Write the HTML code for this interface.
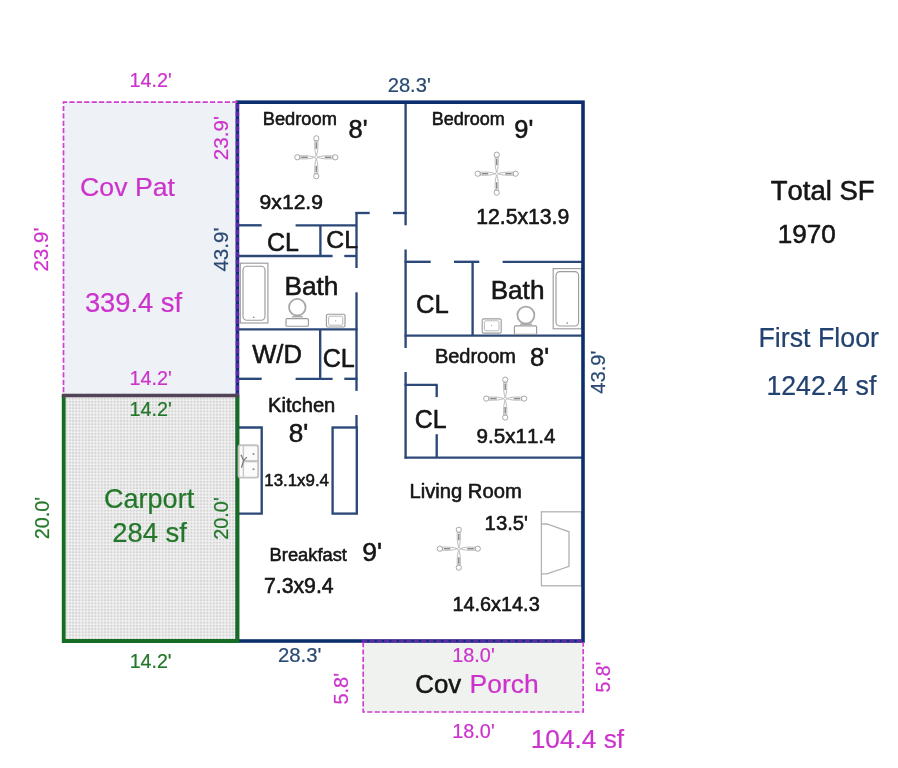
<!DOCTYPE html>
<html lang="en">
<head>
<meta charset="utf-8">
<title>Floor Plan</title>
<style>
html,body{margin:0;padding:0;background:#ffffff;}
body{width:898px;height:768px;overflow:hidden;font-family:"Liberation Sans",sans-serif;}
svg{display:block;}
svg text{font-family:"Liberation Sans",sans-serif;font-kerning:none;stroke-linejoin:round;}
</style>
</head>
<body>
<svg width="898" height="768" viewBox="0 0 898 768">
<defs>
<pattern id="grid" x="65" y="397" width="3.2" height="3.2" patternUnits="userSpaceOnUse">
<rect width="3.2" height="3.2" fill="#f4f4f4"/>
<rect x="0.6" y="0.6" width="2.05" height="2.05" fill="#d2d2d2"/>
</pattern>
<filter id="soft2" x="-2%" y="-2%" width="104%" height="104%"><feGaussianBlur stdDeviation="0.4"/></filter>
<filter id="soft" x="-2%" y="-2%" width="104%" height="104%"><feGaussianBlur stdDeviation="0.65"/></filter>
</defs>
<rect width="898" height="768" fill="#ffffff"/>
<rect x="63.5" y="395.5" width="174" height="245.5" fill="url(#grid)" filter="url(#soft2)"/>
<g filter="url(#soft)">
<rect x="63.5" y="102.2" width="174" height="293.3" fill="#eef2f7"/>
<rect x="363" y="641" width="220" height="71" fill="#f0f2f0"/>
<line x1="237" y1="225.3" x2="261.7" y2="225.3" stroke="#2c4879" stroke-width="2.35" />
<line x1="295.6" y1="225.3" x2="356.5" y2="225.3" stroke="#2c4879" stroke-width="2.35" />
<line x1="320.4" y1="225.3" x2="320.4" y2="256" stroke="#2c4879" stroke-width="2.35" />
<line x1="237" y1="256" x2="332.6" y2="256" stroke="#2c4879" stroke-width="2.35" />
<line x1="344.3" y1="256" x2="356.5" y2="256" stroke="#2c4879" stroke-width="2.35" />
<line x1="356.5" y1="212" x2="356.5" y2="268" stroke="#2c4879" stroke-width="2.35" />
<line x1="356.5" y1="292.3" x2="356.5" y2="390.9" stroke="#2c4879" stroke-width="2.35" />
<line x1="356.5" y1="415" x2="356.5" y2="428" stroke="#2c4879" stroke-width="2.35" />
<line x1="355.5" y1="213" x2="369.7" y2="213" stroke="#2c4879" stroke-width="2.35" />
<line x1="393" y1="213" x2="406.6" y2="213" stroke="#2c4879" stroke-width="2.35" />
<line x1="405.6" y1="102" x2="405.6" y2="225.3" stroke="#2c4879" stroke-width="2.35" />
<line x1="405.6" y1="249.5" x2="405.6" y2="348" stroke="#2c4879" stroke-width="2.35" />
<line x1="405.6" y1="372" x2="405.6" y2="458.6" stroke="#2c4879" stroke-width="2.35" />
<line x1="237" y1="329.4" x2="357.5" y2="329.4" stroke="#2c4879" stroke-width="2.35" />
<line x1="320.2" y1="329.4" x2="320.2" y2="378.8" stroke="#2c4879" stroke-width="2.35" />
<line x1="237" y1="378.8" x2="261.7" y2="378.8" stroke="#2c4879" stroke-width="2.35" />
<line x1="295.6" y1="378.8" x2="332.6" y2="378.8" stroke="#2c4879" stroke-width="2.35" />
<line x1="344.3" y1="378.8" x2="357.5" y2="378.8" stroke="#2c4879" stroke-width="2.35" />
<line x1="404.6" y1="261.8" x2="430.7" y2="261.8" stroke="#2c4879" stroke-width="2.35" />
<line x1="454" y1="261.8" x2="479.3" y2="261.8" stroke="#2c4879" stroke-width="2.35" />
<line x1="502.6" y1="261.8" x2="583" y2="261.8" stroke="#2c4879" stroke-width="2.35" />
<line x1="472.6" y1="261.8" x2="472.6" y2="335.6" stroke="#2c4879" stroke-width="2.35" />
<line x1="404.6" y1="335.6" x2="583" y2="335.6" stroke="#2c4879" stroke-width="2.35" />
<line x1="404.6" y1="384.9" x2="437.7" y2="384.9" stroke="#2c4879" stroke-width="2.35" />
<line x1="436.7" y1="384.9" x2="436.7" y2="397.1" stroke="#2c4879" stroke-width="2.35" />
<line x1="436.7" y1="434.2" x2="436.7" y2="457.6" stroke="#2c4879" stroke-width="2.35" />
<line x1="404.6" y1="457.6" x2="583" y2="457.6" stroke="#2c4879" stroke-width="2.35" />
<path d="M237,427.5 H261.7 V513.6 H237" fill="none" stroke="#2c4879" stroke-width="2.35"/>
<rect x="332.6" y="427.5" width="24.2" height="86.1" fill="none" stroke="#2c4879" stroke-width="2.35"/>
<g fill="none" stroke="#9c9c9c" stroke-width="1.15">
<rect x="240.3" y="263.2" width="27.6" height="59.8"/>
<rect x="243" y="266.2" width="22" height="54" rx="4"/>
<circle cx="253.8" cy="317.3" r="0.8" fill="#777" stroke="none"/>
<circle cx="297.3" cy="307.2" r="8.3" stroke-width="1.8" stroke="#a8a8a8"/>
<rect x="286" y="318.6" width="22.4" height="7.6" rx="1" fill="#fff"/>
<line x1="292" y1="316.8" x2="303" y2="316.8"/>
<rect x="326.4" y="314.2" width="18.6" height="12.8" rx="1.5"/>
<rect x="328.6" y="316.2" width="14.2" height="9" rx="1.5" stroke-width="0.7"/>
<circle cx="335.7" cy="320.8" r="0.6" fill="#999" stroke="none"/>
<rect x="553.2" y="268.6" width="28.3" height="60.2"/>
<rect x="556" y="271.6" width="22.6" height="54.4" rx="4"/>
<circle cx="567.2" cy="323" r="0.8" fill="#777" stroke="none"/>
<circle cx="525.9" cy="315.1" r="8.5" stroke-width="1.8" stroke="#a8a8a8"/>
<rect x="514.4" y="325.9" width="22.2" height="8.4" rx="1" fill="#fff"/>
<line x1="520" y1="324.2" x2="532" y2="324.2"/>
<rect x="482.2" y="318.8" width="19" height="14.4" rx="1.5"/>
<rect x="484.4" y="320.8" width="14.6" height="10" rx="1.5" stroke-width="0.7"/>
<circle cx="491.6" cy="325.6" r="0.6" fill="#999" stroke="none"/>
<rect x="541.4" y="511.8" width="40" height="74" stroke="#b2b2b2" stroke-width="1.3"/>
<path d="M541.4,524 H547 L569,531.8 V566.3 L547,573.8 H541.4" stroke="#b2b2b2" stroke-width="1.3"/>
</g>
<g transform="translate(316.3,157.3)" fill="none" stroke="#b4b4b4" stroke-width="0.9"><g transform="rotate(0)"><path d="M1.5,0 C5,-1.5 10,-1.8 16.5,-1.5 L16.5,1.5 C10,1.8 5,1.5 1.5,0 Z"/><line x1="8.5" y1="0" x2="15.0" y2="0" stroke="#8a8a8a" stroke-width="1.5"/><ellipse cx="18.9" cy="0" rx="2.7" ry="2.6" stroke="#a6a6a6" stroke-width="1"/></g><g transform="rotate(90)"><path d="M1.5,0 C5,-1.5 10,-1.8 16.5,-1.5 L16.5,1.5 C10,1.8 5,1.5 1.5,0 Z"/><line x1="8.5" y1="0" x2="15.0" y2="0" stroke="#8a8a8a" stroke-width="1.5"/><ellipse cx="18.9" cy="0" rx="2.7" ry="2.6" stroke="#a6a6a6" stroke-width="1"/></g><g transform="rotate(180)"><path d="M1.5,0 C5,-1.5 10,-1.8 16.5,-1.5 L16.5,1.5 C10,1.8 5,1.5 1.5,0 Z"/><line x1="8.5" y1="0" x2="15.0" y2="0" stroke="#8a8a8a" stroke-width="1.5"/><ellipse cx="18.9" cy="0" rx="2.7" ry="2.6" stroke="#a6a6a6" stroke-width="1"/></g><g transform="rotate(270)"><path d="M1.5,0 C5,-1.5 10,-1.8 16.5,-1.5 L16.5,1.5 C10,1.8 5,1.5 1.5,0 Z"/><line x1="8.5" y1="0" x2="15.0" y2="0" stroke="#8a8a8a" stroke-width="1.5"/><ellipse cx="18.9" cy="0" rx="2.7" ry="2.6" stroke="#a6a6a6" stroke-width="1"/></g><circle r="1.4" stroke="#bdbdbd"/></g>
<g transform="translate(496.7,173.7)" fill="none" stroke="#b4b4b4" stroke-width="0.9"><g transform="rotate(0)"><path d="M1.5,0 C5,-1.5 10,-1.8 16.5,-1.5 L16.5,1.5 C10,1.8 5,1.5 1.5,0 Z"/><line x1="8.5" y1="0" x2="15.0" y2="0" stroke="#8a8a8a" stroke-width="1.5"/><ellipse cx="18.9" cy="0" rx="2.7" ry="2.6" stroke="#a6a6a6" stroke-width="1"/></g><g transform="rotate(90)"><path d="M1.5,0 C5,-1.5 10,-1.8 16.5,-1.5 L16.5,1.5 C10,1.8 5,1.5 1.5,0 Z"/><line x1="8.5" y1="0" x2="15.0" y2="0" stroke="#8a8a8a" stroke-width="1.5"/><ellipse cx="18.9" cy="0" rx="2.7" ry="2.6" stroke="#a6a6a6" stroke-width="1"/></g><g transform="rotate(180)"><path d="M1.5,0 C5,-1.5 10,-1.8 16.5,-1.5 L16.5,1.5 C10,1.8 5,1.5 1.5,0 Z"/><line x1="8.5" y1="0" x2="15.0" y2="0" stroke="#8a8a8a" stroke-width="1.5"/><ellipse cx="18.9" cy="0" rx="2.7" ry="2.6" stroke="#a6a6a6" stroke-width="1"/></g><g transform="rotate(270)"><path d="M1.5,0 C5,-1.5 10,-1.8 16.5,-1.5 L16.5,1.5 C10,1.8 5,1.5 1.5,0 Z"/><line x1="8.5" y1="0" x2="15.0" y2="0" stroke="#8a8a8a" stroke-width="1.5"/><ellipse cx="18.9" cy="0" rx="2.7" ry="2.6" stroke="#a6a6a6" stroke-width="1"/></g><circle r="1.4" stroke="#bdbdbd"/></g>
<g transform="translate(505.2,398.6)" fill="none" stroke="#b4b4b4" stroke-width="0.9"><g transform="rotate(0)"><path d="M1.5,0 C5,-1.5 10,-1.8 16.5,-1.5 L16.5,1.5 C10,1.8 5,1.5 1.5,0 Z"/><line x1="8.5" y1="0" x2="15.0" y2="0" stroke="#8a8a8a" stroke-width="1.5"/><ellipse cx="18.9" cy="0" rx="2.7" ry="2.6" stroke="#a6a6a6" stroke-width="1"/></g><g transform="rotate(90)"><path d="M1.5,0 C5,-1.5 10,-1.8 16.5,-1.5 L16.5,1.5 C10,1.8 5,1.5 1.5,0 Z"/><line x1="8.5" y1="0" x2="15.0" y2="0" stroke="#8a8a8a" stroke-width="1.5"/><ellipse cx="18.9" cy="0" rx="2.7" ry="2.6" stroke="#a6a6a6" stroke-width="1"/></g><g transform="rotate(180)"><path d="M1.5,0 C5,-1.5 10,-1.8 16.5,-1.5 L16.5,1.5 C10,1.8 5,1.5 1.5,0 Z"/><line x1="8.5" y1="0" x2="15.0" y2="0" stroke="#8a8a8a" stroke-width="1.5"/><ellipse cx="18.9" cy="0" rx="2.7" ry="2.6" stroke="#a6a6a6" stroke-width="1"/></g><g transform="rotate(270)"><path d="M1.5,0 C5,-1.5 10,-1.8 16.5,-1.5 L16.5,1.5 C10,1.8 5,1.5 1.5,0 Z"/><line x1="8.5" y1="0" x2="15.0" y2="0" stroke="#8a8a8a" stroke-width="1.5"/><ellipse cx="18.9" cy="0" rx="2.7" ry="2.6" stroke="#a6a6a6" stroke-width="1"/></g><circle r="1.4" stroke="#bdbdbd"/></g>
<g transform="translate(458.8,548.7)" fill="none" stroke="#b4b4b4" stroke-width="0.9"><g transform="rotate(0)"><path d="M1.5,0 C5,-1.5 10,-1.8 16.5,-1.5 L16.5,1.5 C10,1.8 5,1.5 1.5,0 Z"/><line x1="8.5" y1="0" x2="15.0" y2="0" stroke="#8a8a8a" stroke-width="1.5"/><ellipse cx="18.9" cy="0" rx="2.7" ry="2.6" stroke="#a6a6a6" stroke-width="1"/></g><g transform="rotate(90)"><path d="M1.5,0 C5,-1.5 10,-1.8 16.5,-1.5 L16.5,1.5 C10,1.8 5,1.5 1.5,0 Z"/><line x1="8.5" y1="0" x2="15.0" y2="0" stroke="#8a8a8a" stroke-width="1.5"/><ellipse cx="18.9" cy="0" rx="2.7" ry="2.6" stroke="#a6a6a6" stroke-width="1"/></g><g transform="rotate(180)"><path d="M1.5,0 C5,-1.5 10,-1.8 16.5,-1.5 L16.5,1.5 C10,1.8 5,1.5 1.5,0 Z"/><line x1="8.5" y1="0" x2="15.0" y2="0" stroke="#8a8a8a" stroke-width="1.5"/><ellipse cx="18.9" cy="0" rx="2.7" ry="2.6" stroke="#a6a6a6" stroke-width="1"/></g><g transform="rotate(270)"><path d="M1.5,0 C5,-1.5 10,-1.8 16.5,-1.5 L16.5,1.5 C10,1.8 5,1.5 1.5,0 Z"/><line x1="8.5" y1="0" x2="15.0" y2="0" stroke="#8a8a8a" stroke-width="1.5"/><ellipse cx="18.9" cy="0" rx="2.7" ry="2.6" stroke="#a6a6a6" stroke-width="1"/></g><circle r="1.4" stroke="#bdbdbd"/></g>
<rect x="237.4" y="102.2" width="345.6" height="538.8" fill="none" stroke="#0b2f6c" stroke-width="3.6"/>
<path d="M237.4,395.5 V641 H63.7 V395.5" fill="none" stroke="#166c20" stroke-width="3.8" stroke-linejoin="miter"/>
<line x1="61.8" y1="395.5" x2="239.2" y2="395.5" stroke="#4b4551" stroke-width="3.6" />
<line x1="63.7" y1="395.5" x2="237.4" y2="395.5" stroke="#7a3f7c" stroke-width="3.6" stroke-dasharray="5 2.2" opacity="0.22"/>
<path d="M237.4,102.2 H63.5 V394" fill="none" stroke="#cf3fd0" stroke-width="1.7" stroke-dasharray="5.2 2.2"/>
<line x1="237.4" y1="104" x2="237.4" y2="394" stroke="#7d2cc4" stroke-width="3.6" stroke-dasharray="5.2 2.2" opacity="0.68"/>
<path d="M363.2,642 V712 H583.2 V642" fill="none" stroke="#cf3fd0" stroke-width="1.7" stroke-dasharray="5.2 2.2"/>
<line x1="362" y1="641" x2="583" y2="641" stroke="#7d2cc4" stroke-width="3.6" stroke-dasharray="5.2 2.2" opacity="0.68"/>
<g fill="none">
<rect x="238.6" y="445.2" width="19.6" height="32.4" rx="2" fill="#fbfbfb" stroke="#c2c2c2" stroke-width="1.9"/>
<line x1="243.4" y1="445.6" x2="243.4" y2="477.2" stroke="#c8c8c8" stroke-width="1.4"/>
<line x1="243" y1="461.2" x2="258" y2="461.2" stroke="#c2c2c2" stroke-width="2.2"/>
<path d="M241.2,455.2 L243.6,460.6 L246.6,457.4 M243.6,460.6 L241.6,467.2" stroke="#7c7c7c" stroke-width="1.3" stroke-linecap="round"/>
<circle cx="253.5" cy="453.9" r="1" fill="#8a8a8a"/><circle cx="253.5" cy="469.2" r="1" fill="#8a8a8a"/>
</g>
<text x="262.80" y="124.60" font-size="18.26" fill="#141414" stroke="#141414" stroke-width="0.55">Bedroom</text>
<text x="348.50" y="137.50" font-size="25.44" fill="#141414" stroke="#141414" stroke-width="0.55">8&#39;</text>
<text x="259.60" y="209.20" font-size="21.12" fill="#141414" stroke="#141414" stroke-width="0.55">9x12.9</text>
<text x="267.00" y="251.00" font-size="25.04" fill="#141414" stroke="#141414" stroke-width="0.55">CL</text>
<text x="326.30" y="247.60" font-size="24.80" fill="#141414" stroke="#141414" stroke-width="0.55">CL</text>
<text x="284.40" y="294.50" font-size="26.25" fill="#141414" stroke="#141414" stroke-width="0.55">Bath</text>
<text x="252.20" y="363.40" font-size="25.62" fill="#141414" stroke="#141414" stroke-width="0.55">W/D</text>
<text x="322.70" y="366.60" font-size="25.12" fill="#141414" stroke="#141414" stroke-width="0.55">CL</text>
<text x="268.00" y="412.00" font-size="20.21" fill="#141414" stroke="#141414" stroke-width="0.55">Kitchen</text>
<text x="288.80" y="441.70" font-size="26.10" fill="#141414" stroke="#141414" stroke-width="0.55">8&#39;</text>
<text x="264.30" y="485.70" font-size="16.87" fill="#141414" stroke="#141414" stroke-width="0.55">13.1x9.4</text>
<text x="269.60" y="561.40" font-size="18.32" fill="#141414" stroke="#141414" stroke-width="0.55">Breakfast</text>
<text x="362.20" y="561.00" font-size="26.51" fill="#141414" stroke="#141414" stroke-width="0.55">9&#39;</text>
<text x="263.90" y="592.50" font-size="21.28" fill="#141414" stroke="#141414" stroke-width="0.55">7.3x9.4</text>
<text x="431.70" y="124.60" font-size="17.99" fill="#141414" stroke="#141414" stroke-width="0.55">Bedroom</text>
<text x="514.30" y="138.40" font-size="25.44" fill="#141414" stroke="#141414" stroke-width="0.55">9&#39;</text>
<text x="476.20" y="224.00" font-size="21.19" fill="#141414" stroke="#141414" stroke-width="0.55">12.5x13.9</text>
<text x="415.90" y="312.60" font-size="25.67" fill="#141414" stroke="#141414" stroke-width="0.55">CL</text>
<text x="490.70" y="298.80" font-size="26.11" fill="#141414" stroke="#141414" stroke-width="0.55">Bath</text>
<text x="434.90" y="363.10" font-size="19.99" fill="#141414" stroke="#141414" stroke-width="0.55">Bedroom</text>
<text x="530.10" y="365.90" font-size="25.57" fill="#141414" stroke="#141414" stroke-width="0.55">8&#39;</text>
<text x="414.80" y="428.40" font-size="24.88" fill="#141414" stroke="#141414" stroke-width="0.55">CL</text>
<text x="476.60" y="443.30" font-size="20.57" fill="#141414" stroke="#141414" stroke-width="0.55">9.5x11.4</text>
<text x="409.50" y="498.00" font-size="20.19" fill="#141414" stroke="#141414" stroke-width="0.55">Living Room</text>
<text x="484.60" y="529.70" font-size="20.31" fill="#141414" stroke="#141414" stroke-width="0.55">13.5&#39;</text>
<text x="452.50" y="611.30" font-size="19.85" fill="#141414" stroke="#141414" stroke-width="0.55">14.6x14.3</text>
<text x="770.80" y="199.60" font-size="27.48" fill="#141414" stroke="#141414" stroke-width="0.55">Total SF</text>
<text x="777.80" y="243.00" font-size="26.11" fill="#141414" stroke="#141414" stroke-width="0.55">1970</text>
<text x="758.50" y="346.60" font-size="26.78" fill="#22426f" stroke="#22426f" stroke-width="0.22">First Floor</text>
<text x="766.40" y="395.00" font-size="26.72" fill="#22426f" stroke="#22426f" stroke-width="0.22">1242.4 sf</text>
<text x="80.10" y="195.80" font-size="26.68" fill="#cc33cc" stroke="#cc33cc" stroke-width="0.22">Cov Pat</text>
<text x="84.90" y="311.50" font-size="27.33" fill="#cc33cc" stroke="#cc33cc" stroke-width="0.22">339.4 sf</text>
<text x="129.60" y="86.70" font-size="19.75" fill="#cc33cc" stroke="#cc33cc" stroke-width="0.22">14.2&#39;</text>
<text x="129.60" y="385.00" font-size="19.75" fill="#cc33cc" stroke="#cc33cc" stroke-width="0.22">14.2&#39;</text>
<text x="452.30" y="662.30" font-size="19.84" fill="#cc33cc" stroke="#cc33cc" stroke-width="0.22">18.0&#39;</text>
<text x="452.30" y="738.30" font-size="19.84" fill="#cc33cc" stroke="#cc33cc" stroke-width="0.22">18.0&#39;</text>
<text x="530.80" y="748.00" font-size="26.21" fill="#cc33cc" stroke="#cc33cc" stroke-width="0.22">104.4 sf</text>
<text transform="translate(228.00,160.20) rotate(-90)" font-size="20.64" fill="#cc33cc" stroke="#cc33cc" stroke-width="0.22">23.9&#39;</text>
<text transform="translate(48.00,271.60) rotate(-90)" font-size="20.64" fill="#cc33cc" stroke="#cc33cc" stroke-width="0.22">23.9&#39;</text>
<text transform="translate(347.80,704.60) rotate(-90)" font-size="20.05" fill="#cc33cc" stroke="#cc33cc" stroke-width="0.22">5.8&#39;</text>
<text transform="translate(610.20,692.40) rotate(-90)" font-size="19.35" fill="#cc33cc" stroke="#cc33cc" stroke-width="0.22">5.8&#39;</text>
<text x="415.30" y="693.20" font-size="25.82" fill="#141414" stroke="#141414" stroke-width="0.55">Cov</text>
<text x="469.60" y="693.20" font-size="26.42" fill="#cc33cc" stroke="#cc33cc" stroke-width="0.22">Porch</text>
<text x="129.60" y="416.30" font-size="19.75" fill="#23772a" stroke="#23772a" stroke-width="0.22">14.2&#39;</text>
<text x="129.70" y="668.00" font-size="19.61" fill="#23772a" stroke="#23772a" stroke-width="0.22">14.2&#39;</text>
<text x="104.00" y="508.40" font-size="27.05" fill="#23772a" stroke="#23772a" stroke-width="0.22">Carport</text>
<text x="112.20" y="541.60" font-size="27.44" fill="#23772a" stroke="#23772a" stroke-width="0.22">284 sf</text>
<text transform="translate(49.00,539.30) rotate(-90)" font-size="19.79" fill="#23772a" stroke="#23772a" stroke-width="0.22">20.0&#39;</text>
<text transform="translate(227.60,539.80) rotate(-90)" font-size="19.89" fill="#23772a" stroke="#23772a" stroke-width="0.22">20.0&#39;</text>
<text x="387.70" y="92.10" font-size="20.17" fill="#2b4a72" stroke="#2b4a72" stroke-width="0.22">28.3&#39;</text>
<text x="278.00" y="662.30" font-size="20.31" fill="#2b4a72" stroke="#2b4a72" stroke-width="0.22">28.3&#39;</text>
<text transform="translate(228.00,271.60) rotate(-90)" font-size="20.64" fill="#2b4a72" stroke="#2b4a72" stroke-width="0.22">43.9&#39;</text>
<text transform="translate(604.50,393.80) rotate(-90)" font-size="20.26" fill="#2b4a72" stroke="#2b4a72" stroke-width="0.22">43.9&#39;</text>
</g>
</svg>
</body>
</html>
